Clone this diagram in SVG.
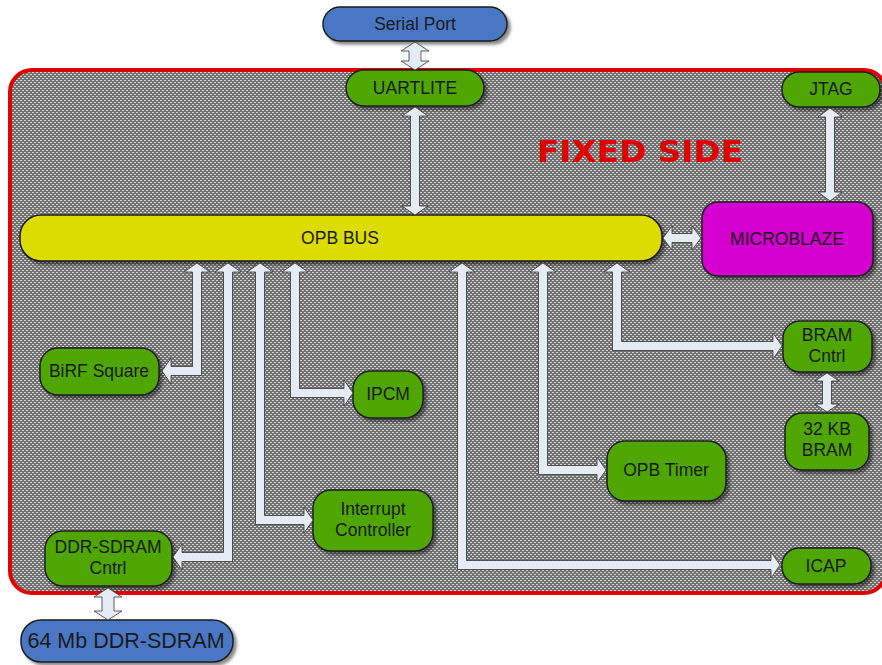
<svg xmlns="http://www.w3.org/2000/svg" width="882" height="665" viewBox="0 0 882 665">
<defs>
<pattern id="dots" width="4" height="4" patternUnits="userSpaceOnUse">
<rect width="4" height="4" fill="#727272"/>
<rect x="0" y="0" width="2" height="1" fill="#d4d4d4"/>
<rect x="2" y="2" width="2" height="1" fill="#d4d4d4"/>
</pattern>
<filter id="sh" x="-20%" y="-30%" width="140%" height="170%">
<feDropShadow dx="3" dy="3" stdDeviation="1.8" flood-color="#000" flood-opacity="0.45"/>
</filter>
</defs>
<style>
.n{stroke:#1e1e1e;stroke-width:1.5;filter:url(#sh)}
.g{fill:#50a600}
.b{fill:#4a77c4}
.t{font-family:"Liberation Sans",Arial,sans-serif;font-size:17.5px;fill:#1a1a1a;text-anchor:middle}
.a{fill:#e6ecf6;stroke:#333;stroke-width:0.8;stroke-linejoin:miter}
</style>
<rect width="882" height="665" fill="#fff"/>
<g id="fixed-side">
<rect x="10" y="70" width="876" height="523" rx="22" fill="url(#dots)" stroke="#e00000" stroke-width="4"/>
<text x="640" y="162" font-family="DejaVu Sans,sans-serif" font-weight="bold" font-size="31" fill="#e00000" text-anchor="middle" textLength="206" lengthAdjust="spacingAndGlyphs">FIXED SIDE</text>
</g>
<g id="serial-port"><rect class="n b" x="323" y="7" width="184" height="34" rx="17"/><text class="t" x="415" y="30">Serial Port</text></g>
<g id="uartlite"><rect class="n g" x="346" y="70" width="138" height="36" rx="18"/><text class="t" x="415" y="94">UARTLITE</text></g>
<g id="jtag"><rect class="n g" x="782" y="72" width="98" height="35" rx="17"/><text class="t" x="831" y="95">JTAG</text></g>
<g id="microblaze"><rect class="n" fill="#d400d0" x="702" y="202" width="171" height="74" rx="16"/><text class="t" x="787" y="245">MICROBLAZE</text></g>
<g id="opb-bus"><rect class="n" fill="#dcdc00" x="20" y="215" width="642" height="46" rx="21"/><text class="t" x="340" y="244">OPB BUS</text></g>
<g id="birf-square"><rect class="n g" x="40" y="348" width="119" height="47" rx="18"/><text class="t" x="99" y="377">BiRF Square</text></g>
<g id="ipcm"><rect class="n g" x="353" y="371" width="70" height="47" rx="18"/><text class="t" x="388" y="400">IPCM</text></g>
<g id="ddr-sdram-cntrl"><rect class="n g" x="45" y="531" width="127" height="55" rx="18"/><text class="t" x="108" y="553">DDR-SDRAM</text><text class="t" x="108" y="574">Cntrl</text></g>
<g id="interrupt-controller"><rect class="n g" x="313" y="490" width="120" height="61" rx="18"/><text class="t" x="373" y="515">Interrupt</text><text class="t" x="373" y="536">Controller</text></g>
<g id="ddr-sdram"><rect class="n b" x="21" y="620" width="212" height="42" rx="20"/><text class="t" x="126" y="648" style="font-size:21.5px">64 Mb DDR-SDRAM</text></g>
<g id="opb-timer"><rect class="n g" x="607" y="441" width="119" height="60" rx="18"/><text class="t" x="666" y="476">OPB Timer</text></g>
<g id="bram-cntrl"><rect class="n g" x="783" y="321" width="89" height="51" rx="17"/><text class="t" x="827" y="341">BRAM</text><text class="t" x="827" y="362">Cntrl</text></g>
<g id="bram-32kb"><rect class="n g" x="785" y="413" width="84" height="57" rx="17"/><text class="t" x="827" y="435">32 KB</text><text class="t" x="827" y="456">BRAM</text></g>
<g id="icap"><rect class="n g" x="782" y="548" width="89" height="36" rx="17"/><text class="t" x="826" y="572">ICAP</text></g>
<g id="connectors">
<polygon class="a" points="415,42 429,51 421,51 421,61 429,61 415,70 401,61 409,61 409,51 401,51"/>
<polygon class="a" points="415,107 428,116 419.5,116 419.5,206 428,206 415,215 402,206 410.5,206 410.5,116 402,116"/>
<polygon class="a" points="830,108 842,117 834.5,117 834.5,192 842,192 830,201 818,192 825.5,192 825.5,117 818,117"/>
<polygon class="a" points="663,238 672,226 672,233.5 692,233.5 692,226 701,238 692,250 692,242.5 672,242.5 672,250"/>
<polygon class="a" points="827,373 839,381 831.5,381 831.5,404 839,404 827,412 815,404 822.5,404 822.5,381 815,381"/>
<polygon class="a" points="108,588 122,597 114,597 114,611 122,611 108,620 94,611 102,611 102,597 94,597"/>
<polygon class="a" points="197,263 210,272 201.5,272 201.5,375.5 171,375.5 171,384 162,371 171,358 171,366.5 192.5,366.5 192.5,272 184,272"/>
<polygon class="a" points="228,263 241,272 232.5,272 232.5,561.5 182,561.5 182,570 173,557 182,544 182,552.5 223.5,552.5 223.5,272 215,272"/>
<polygon class="a" points="260,263 273,272 264.5,272 264.5,515.5 304,515.5 304,507 313,520 304,533 304,524.5 255.5,524.5 255.5,272 247,272"/>
<polygon class="a" points="295,263 308,272 299.5,272 299.5,388.5 344,388.5 344,380 353,393 344,406 344,397.5 290.5,397.5 290.5,272 282,272"/>
<polygon class="a" points="462,263 475,272 466.5,272 466.5,560.5 771,560.5 771,552 780,565 771,578 771,569.5 457.5,569.5 457.5,272 449,272"/>
<polygon class="a" points="543,263 556,272 547.5,272 547.5,465.5 597,465.5 597,457 606,470 597,483 597,474.5 538.5,474.5 538.5,272 530,272"/>
<polygon class="a" points="617,263 630,272 621.5,272 621.5,341.5 773,341.5 773,333 782,346 773,359 773,350.5 612.5,350.5 612.5,272 604,272"/>
</g>
</svg>
